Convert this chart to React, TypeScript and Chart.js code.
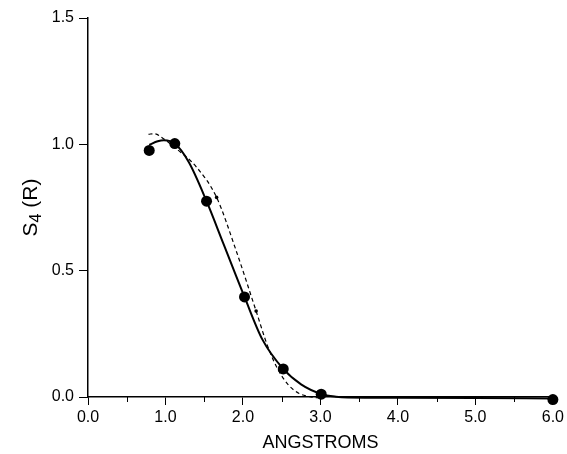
import React, { useEffect, useRef } from "react";
import { Chart, registerables } from "chart.js";

Chart.register(...registerables);

// Measured points (filled circles)
const pointX = [0.79, 1.12, 1.53, 2.02, 2.52, 3.01, 6.0];
const pointY = [0.976, 1.003, 0.775, 0.396, 0.111, 0.011, -0.01];

// Solid fitted curve
const solidX = [0.79, 0.9, 0.98, 1.12, 1.3, 1.53, 1.75, 2.02, 2.25, 2.52, 2.75, 3.01, 3.2, 3.35, 4.0, 5.0, 6.0];
const solidY = [0.998, 1.012, 1.016, 1.003, 0.93, 0.775, 0.605, 0.396, 0.228, 0.111, 0.05, 0.012, 0.001, -0.002, -0.003, -0.004, -0.006];

// Dashed fitted curve
const dashX = [0.78, 0.86, 0.96, 1.15, 1.4, 1.66, 1.9, 2.17, 2.32, 2.45, 2.58, 2.72, 2.88, 3.0];
const dashY = [1.04, 1.042, 1.025, 0.98, 0.91, 0.79, 0.59, 0.34, 0.2, 0.11, 0.05, 0.015, 0.0, -0.004];

// Small dots on the dashed curve
const dotX = [1.66, 2.17];
const dotY = [0.79, 0.34];

const xTicks = [0, 1, 2, 3, 4, 5, 6];
const xMinorTicks = [0.5, 1.5, 2.5, 3.5, 4.5, 5.5];
const yTicks = [0, 0.5, 1.0, 1.5];

const xTitle = "ANGSTROMS";
const yTitleMain = "S";
const yTitleSub = "4";
const yTitleRest = " (R)";

const zip = (xs: number[], ys: number[]) => xs.map((x, i) => ({ x, y: ys[i] }));

const extrasPlugin = {
  id: "extras",
  afterDraw(chart: any) {
    const ctx = chart.ctx;
    const xs = chart.scales.x;
    const ys = chart.scales.y;
    const y0 = ys.getPixelForValue(0);
    ctx.save();
    ctx.strokeStyle = "#000";
    ctx.lineWidth = 1;
    xMinorTicks.forEach((v) => {
      const px = Math.round(xs.getPixelForValue(v)) + 0.5;
      ctx.beginPath();
      ctx.moveTo(px, y0);
      ctx.lineTo(px, y0 + 5);
      ctx.stroke();
    });
    ctx.restore();

    // Y axis title with subscript
    const area = chart.chartArea;
    const cy = (area.top + area.bottom) / 2;
    const cx = 30;
    ctx.save();
    ctx.translate(cx, cy);
    ctx.rotate(-Math.PI / 2);
    ctx.fillStyle = "#000";
    ctx.textBaseline = "alphabetic";
    ctx.textAlign = "left";
    const big = '21px "Liberation Sans"';
    const small = '16px "Liberation Sans"';
    ctx.font = big;
    const wS = ctx.measureText(yTitleMain).width;
    const wR = ctx.measureText(yTitleRest).width;
    ctx.font = small;
    const w4 = ctx.measureText(yTitleSub).width;
    const total = wS + w4 + wR;
    let x = -total / 2;
    const base = 7;
    ctx.font = big;
    ctx.fillText(yTitleMain, x, base);
    x += wS;
    ctx.font = small;
    ctx.fillText(yTitleSub, x, base + 4);
    x += w4;
    ctx.font = big;
    ctx.fillText(yTitleRest, x, base);
    ctx.restore();
  },
};

export default function App() {
  const ref = useRef<HTMLCanvasElement | null>(null);
  useEffect(() => {
    if (!ref.current) return;
    const chart = new Chart(ref.current, {
      type: "line",
      data: {
        datasets: [
          {
            data: zip(solidX, solidY),
            borderColor: "#000",
            borderWidth: 2,
            pointRadius: 0,
            cubicInterpolationMode: "monotone",
            clip: false,
          } as any,
          {
            data: zip(dashX, dashY),
            borderColor: "#000",
            borderWidth: 1.2,
            borderDash: [4, 3],
            pointRadius: 0,
            cubicInterpolationMode: "monotone",
            clip: false,
          } as any,
          {
            data: zip(dotX, dotY),
            showLine: false,
            pointRadius: 1.8,
            pointBackgroundColor: "#000",
            pointBorderWidth: 0,
            clip: false,
          } as any,
          {
            data: zip(pointX, pointY),
            showLine: false,
            pointRadius: 5.5,
            pointBackgroundColor: "#000",
            pointBorderColor: "#000",
            pointBorderWidth: 0,
            clip: false,
          } as any,
        ],
      },
      options: {
        responsive: false,
        animation: false,
        events: [],
        layout: {
          autoPadding: false,
          padding: { top: 18, right: 9, left: 0, bottom: 0 },
        } as any,
        plugins: { legend: { display: false }, tooltip: { enabled: false } },
        scales: {
          x: {
            type: "linear",
            min: 0,
            max: 6,
            afterFit: (s: any) => {
              s.height = 57;
            },
            afterBuildTicks: (s: any) => {
              s.ticks = xTicks.map((v) => ({ value: v }));
            },
            ticks: {
              color: "#000",
              font: { family: "Liberation Sans", size: 16 },
              padding: 3,
              maxRotation: 0,
              callback: (v: any) => Number(v).toFixed(1),
            },
            grid: {
              drawOnChartArea: false,
              drawTicks: true,
              tickLength: 8,
              color: "#000",
              lineWidth: 1,
            },
            border: { display: true, color: "#000", width: 1.5 },
            title: {
              display: true,
              text: xTitle,
              color: "#000",
              font: { family: "Liberation Sans", size: 18 },
              padding: { top: 0, bottom: 0 },
            },
          },
          y: {
            type: "linear",
            min: 0,
            max: 1.5,
            afterFit: (s: any) => {
              s.width = 88;
            },
            afterBuildTicks: (s: any) => {
              s.ticks = yTicks.map((v) => ({ value: v }));
            },
            ticks: {
              color: "#000",
              font: { family: "Liberation Sans", size: 16 },
              padding: 5,
              callback: (v: any) => Number(v).toFixed(1),
            },
            grid: {
              drawOnChartArea: false,
              drawTicks: true,
              tickLength: 9,
              color: "#000",
              lineWidth: 1,
            },
            border: { display: true, color: "#000", width: 1.5 },
            title: { display: false },
          },
        },
      },
      plugins: [extrasPlugin],
    });
    return () => chart.destroy();
  }, []);
  return (
    <div style={{ position: "absolute", left: 0, top: 0, width: 567, height: 454, background: "#fff" }}>
      <canvas ref={ref} width={567} height={454} />
    </div>
  );
}
